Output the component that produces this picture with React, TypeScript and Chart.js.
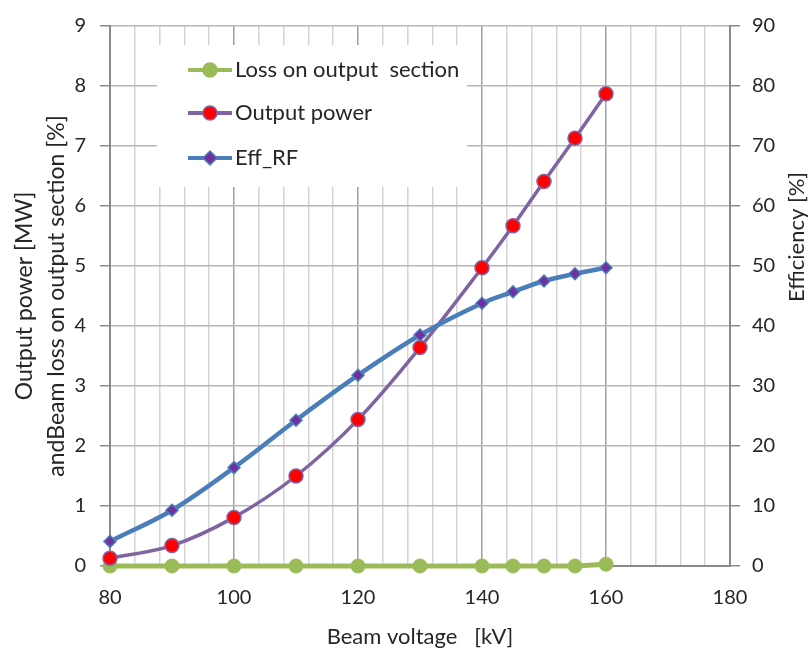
import React, { useEffect, useRef } from "react";
import { Chart, registerables } from "chart.js";

Chart.register(...registerables);

const voltages = [80, 90, 100, 110, 120, 130, 140, 145, 150, 155, 160];
const lossOnOutput = [0, 0, 0, 0, 0, 0, 0, 0, 0, 0, 0.03];
const outputPower = [0.13, 0.34, 0.81, 1.5, 2.44, 3.64, 4.97, 5.67, 6.41, 7.13, 7.87];
const effRF = [4.1, 9.3, 16.4, 24.3, 31.8, 38.5, 43.8, 45.7, 47.5, 48.7, 49.7];

const seriesNames = ["Loss on output  section", "Output power", "Eff_RF"];
const xTitle = "Beam voltage   [kV]";
const yLeftTitle = ["Output power [MW]", "andBeam loss on output section [%]"];
const yRightTitle = "Efficiency [%]";

const FONT = "Lato, 'Liberation Sans', sans-serif";
const TEXT = "#262626";
const GREEN = "#9BBB59";
const PURPLE = "#8064A2";
const BLUE = "#4A7EBB";
const DIAMOND = "#7030A0";

const pts = (ys: number[]) => voltages.map((x, i) => ({ x, y: ys[i] }));

const overlayPlugin = {
  id: "overlay",
  beforeDatasetsDraw(chart: any) {
    const ctx = chart.ctx;
    ctx.save();
    ctx.fillStyle = "#ffffff";
    ctx.fillRect(157, 45, 310, 142);
    const rows = [
      { y: 70, line: GREEN, fill: GREEN, stroke: GREEN, shape: "circle" },
      { y: 113, line: PURPLE, fill: "#FF0000", stroke: PURPLE, shape: "circle" },
      { y: 158, line: BLUE, fill: DIAMOND, stroke: BLUE, shape: "diamond" },
    ];
    rows.forEach((r, i) => {
      ctx.strokeStyle = r.line;
      ctx.lineWidth = 4;
      ctx.beginPath();
      ctx.moveTo(188, r.y);
      ctx.lineTo(232, r.y);
      ctx.stroke();
      ctx.fillStyle = r.fill;
      ctx.strokeStyle = r.stroke;
      ctx.lineWidth = 1.5;
      ctx.beginPath();
      if (r.shape === "circle") {
        ctx.arc(210, r.y, 7, 0, Math.PI * 2);
      } else {
        ctx.moveTo(210, r.y - 7);
        ctx.lineTo(217, r.y);
        ctx.lineTo(210, r.y + 7);
        ctx.lineTo(203, r.y);
        ctx.closePath();
      }
      ctx.fill();
      ctx.stroke();
      ctx.fillStyle = TEXT;
      ctx.font = `22px ${FONT}`;
      ctx.textBaseline = "middle";
      ctx.textAlign = "left";
      ctx.fillText(seriesNames[i], 235, r.y);
    });
    ctx.restore();
  },
  afterDraw(chart: any) {
    const ctx = chart.ctx;
    ctx.save();
    ctx.translate(797, 237);
    ctx.rotate(-Math.PI / 2);
    ctx.fillStyle = TEXT;
    ctx.font = `22px ${FONT}`;
    ctx.textAlign = "center";
    ctx.textBaseline = "middle";
    ctx.fillText(yRightTitle, 0, 0);
    ctx.restore();
  },
};

export default function App() {
  const ref = useRef<HTMLCanvasElement>(null);
  useEffect(() => {
    document.body.style.margin = "0";
    const chart = new Chart(ref.current!, {
      type: "line",
      data: {
        datasets: [
          {
            label: seriesNames[2],
            data: pts(effRF),
            yAxisID: "y1",
            clip: false,
            borderColor: BLUE,
            borderWidth: 4.5,
            tension: 0.35,
            pointStyle: "rectRot",
            pointRadius: 6,
            pointBackgroundColor: DIAMOND,
            pointBorderColor: BLUE,
            pointBorderWidth: 1.5,
          },
          {
            label: seriesNames[1],
            data: pts(outputPower),
            yAxisID: "y",
            clip: false,
            borderColor: PURPLE,
            borderWidth: 3.5,
            tension: 0.35,
            pointRadius: 7,
            pointBackgroundColor: "#FF0000",
            pointBorderColor: PURPLE,
            pointBorderWidth: 1.5,
          },
          {
            label: seriesNames[0],
            data: pts(lossOnOutput),
            yAxisID: "y",
            clip: false,
            borderColor: GREEN,
            borderWidth: 5,
            tension: 0,
            pointRadius: 7,
            pointBackgroundColor: GREEN,
            pointBorderColor: GREEN,
            pointBorderWidth: 1,
          },
        ],
      },
      options: {
        responsive: false,
        animation: false,
        layout: { padding: { top: 17, left: 0, right: 0, bottom: 0 } },
        plugins: { legend: { display: false }, tooltip: { enabled: false } },
        scales: {
          x: {
            type: "linear",
            min: 80,
            max: 180,
            afterFit: (s: any) => {
              s.height = 88;
            },
            ticks: {
              stepSize: 4,
              autoSkip: false,
              maxRotation: 0,
              padding: 20,
              color: TEXT,
              font: { family: FONT, size: 20 },
              callback: (v: any) => (Number(v) % 20 === 0 ? String(v) : ""),
            },
            grid: {
              drawTicks: false,
              color: (c: any) => (c.tick && c.tick.value % 20 === 0 ? "#a0a0a0" : "#d4d4d4"),
              lineWidth: 1.5,
            },
            border: { color: "#8a8a8a", width: 2 },
            title: {
              display: true,
              text: xTitle,
              color: TEXT,
              font: { family: FONT, size: 22 },
              padding: { top: 0, bottom: 4 },
            },
          },
          y: {
            position: "left",
            min: 0,
            max: 9,
            afterFit: (s: any) => {
              s.width = 110;
            },
            ticks: {
              stepSize: 1,
              padding: 14,
              color: TEXT,
              font: { family: FONT, size: 20 },
            },
            grid: {
              color: "#b8b8b8",
              lineWidth: 1.5,
              tickLength: 10,
              tickColor: "#8a8a8a",
            },
            border: { color: "#8a8a8a", width: 2 },
            title: {
              display: true,
              text: yLeftTitle,
              color: TEXT,
              font: { family: FONT, size: 23, lineHeight: 1.39 },
              padding: { top: 9, bottom: 0 },
            },
          },
          y1: {
            position: "right",
            min: 0,
            max: 90,
            afterFit: (s: any) => {
              s.width = 81;
            },
            ticks: {
              stepSize: 10,
              padding: 12,
              color: TEXT,
              font: { family: FONT, size: 20 },
            },
            grid: {
              drawOnChartArea: false,
              tickLength: 10,
              tickColor: "#8a8a8a",
              lineWidth: 1.5,
            },
            border: { color: "#8a8a8a", width: 2 },
          },
        },
      },
      plugins: [overlayPlugin],
    } as any);
    return () => chart.destroy();
  }, []);
  return (
    <div style={{ position: "absolute", left: 0, top: 0, width: 811, height: 654 }}>
      <canvas ref={ref} width={811} height={654} />
    </div>
  );
}
